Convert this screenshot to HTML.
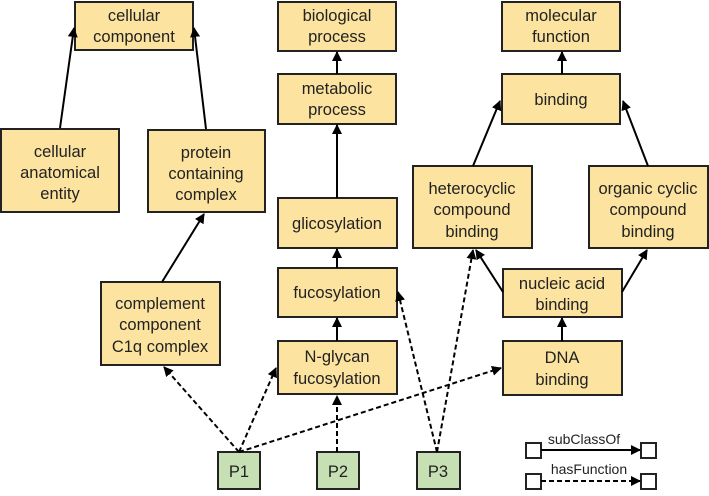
<!DOCTYPE html>
<html><head><meta charset="utf-8"><style>
body{margin:0;background:#fff;}
svg text{font-family:"Liberation Sans",sans-serif;font-size:16.5px;fill:#222;text-anchor:middle;}
</style></head><body>
<svg width="709" height="491" viewBox="0 0 709 491" xmlns="http://www.w3.org/2000/svg">
<defs>
<marker id="a" markerWidth="10" markerHeight="10" refX="9" refY="5" orient="auto" markerUnits="userSpaceOnUse">
<path d="M0,0 L10,5 L0,10 z" fill="#000"/></marker>
</defs>
<g fill="#fce39f" stroke="#222" stroke-width="2">
<rect x="75" y="2" width="118" height="48"/>
<rect x="1" y="129" width="118" height="83"/>
<rect x="148" y="130" width="117" height="82"/>
<rect x="278" y="2" width="118" height="49"/>
<rect x="278" y="74" width="118" height="50"/>
<rect x="278" y="198" width="119" height="50"/>
<rect x="278" y="268" width="119" height="49"/>
<rect x="278" y="341" width="119" height="53"/>
<rect x="101" y="282" width="119" height="83"/>
<rect x="502" y="2" width="118" height="49"/>
<rect x="502" y="74" width="118" height="50"/>
<rect x="413" y="166" width="119" height="82"/>
<rect x="589" y="166" width="119" height="82"/>
<rect x="503" y="269" width="119" height="48"/>
<rect x="503" y="341" width="119" height="54"/>
</g>
<g fill="#c6e0b4" stroke="#222" stroke-width="2">
<rect x="218" y="452" width="42" height="37"/>
<rect x="317" y="452" width="42" height="37"/>
<rect x="417" y="452" width="43" height="37"/>
</g>
<g fill="#fff" stroke="#222" stroke-width="2">
<rect x="526" y="443" width="15" height="15"/>
<rect x="641" y="443" width="15" height="15"/>
<rect x="526" y="474" width="15" height="15"/>
<rect x="641" y="474" width="15" height="15"/>
</g>
<g stroke="#000" stroke-width="2" fill="none" marker-end="url(#a)">
<line x1="60" y1="128" x2="74" y2="28"/>
<line x1="206" y1="129" x2="194" y2="28"/>
<line x1="162" y1="282" x2="204" y2="214"/>
<line x1="337" y1="74" x2="337" y2="52"/>
<line x1="337" y1="198" x2="337" y2="125"/>
<line x1="337" y1="268" x2="337" y2="249"/>
<line x1="337" y1="341" x2="337" y2="318"/>
<line x1="562" y1="74" x2="562" y2="52"/>
<line x1="473" y1="166" x2="500" y2="101"/>
<line x1="648" y1="166" x2="623" y2="101"/>
<line x1="503" y1="292" x2="476" y2="250"/>
<line x1="622" y1="292" x2="647" y2="250"/>
<line x1="562" y1="341" x2="562" y2="318"/>
<line x1="541" y1="450" x2="640" y2="450"/>
</g>
<g stroke="#000" stroke-width="2" fill="none" stroke-dasharray="5,3" marker-end="url(#a)">
<line x1="239" y1="452" x2="164" y2="367"/>
<line x1="239" y1="452" x2="276" y2="368"/>
<line x1="239" y1="452" x2="501" y2="368"/>
<line x1="337" y1="452" x2="337" y2="396"/>
<line x1="437" y1="452" x2="398" y2="292"/>
<line x1="437" y1="452" x2="473" y2="250"/>
<line x1="541" y1="481" x2="640" y2="481"/>
</g>
<text x="134" y="21">cellular</text><text x="134" y="42">component</text>
<text x="60" y="157">cellular</text><text x="60" y="178">anatomical</text><text x="60" y="199">entity</text>
<text x="206" y="158">protein</text><text x="206" y="179">containing</text><text x="206" y="200">complex</text>
<text x="337" y="21">biological</text><text x="337" y="42">process</text>
<text x="337" y="94">metabolic</text><text x="337" y="115">process</text>
<text x="337" y="229">glicosylation</text>
<text x="337" y="298">fucosylation</text>
<text x="337" y="362">N-glycan</text><text x="337" y="384">fucosylation</text>
<text x="160" y="309">complement</text><text x="160" y="330">component</text><text x="160" y="352">C1q complex</text>
<text x="561" y="21">molecular</text><text x="561" y="42">function</text>
<text x="561" y="105">binding</text>
<text x="472" y="194">heterocyclic</text><text x="472" y="215">compound</text><text x="472" y="237">binding</text>
<text x="648" y="194">organic cyclic</text><text x="648" y="215">compound</text><text x="648" y="237">binding</text>
<text x="562" y="289">nucleic acid</text><text x="562" y="310">binding</text>
<text x="562" y="363">DNA</text><text x="562" y="385">binding</text>
<text x="239" y="477">P1</text><text x="338" y="477">P2</text><text x="438" y="477">P3</text>
<text x="584" y="444" style="font-size:14px">subClassOf</text>
<text x="589" y="474" style="font-size:14px">hasFunction</text>
</svg>
</body></html>
